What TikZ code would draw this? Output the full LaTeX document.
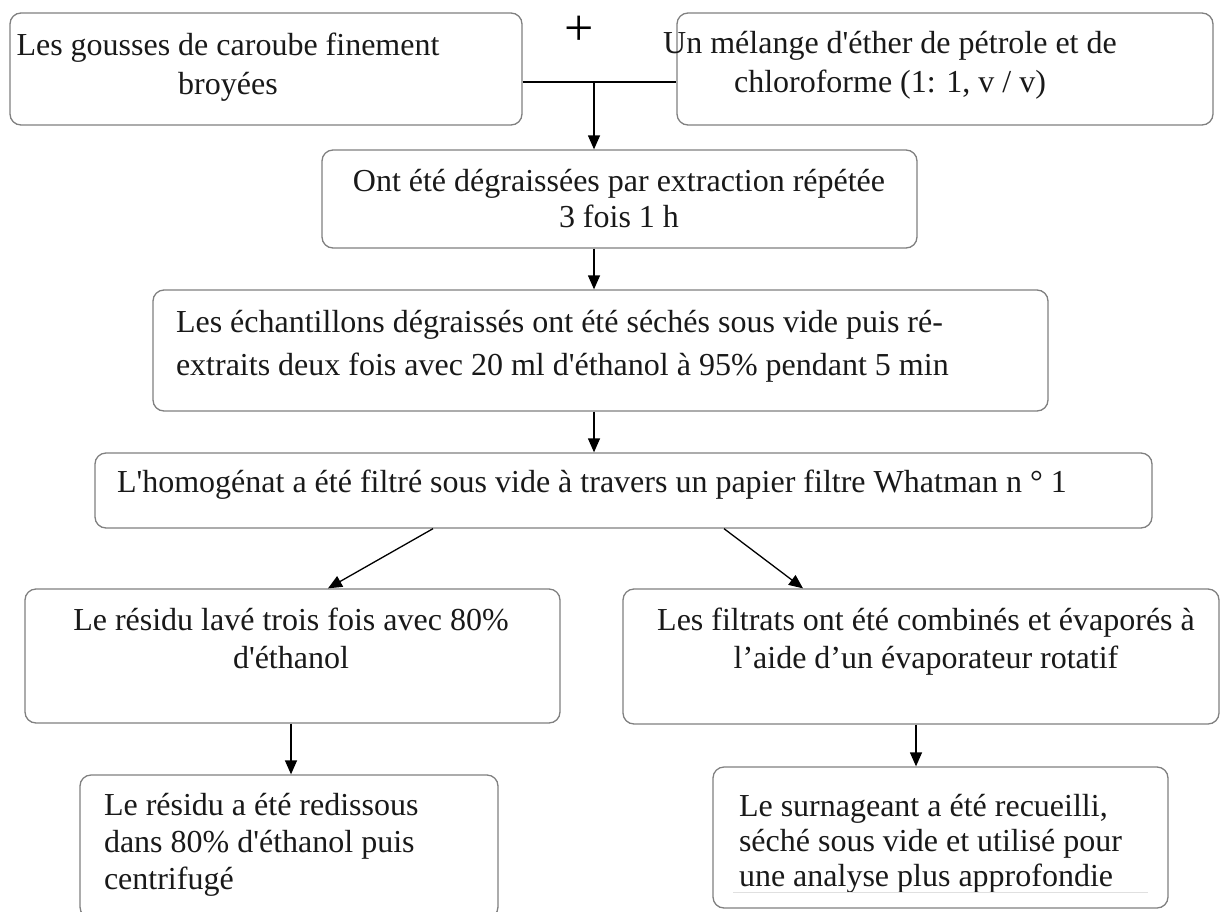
\documentclass[tikz,border=0pt]{standalone}
\usepackage{fontspec}
\newfontfamily\bodyfont{Liberation Serif}
\usetikzlibrary{arrows.meta}

\tikzset{
  box/.style={draw=black!50, line width=1.3pt, rounded corners=11pt,
    inner sep=0pt, fill=white},
  txt/.style={inner sep=0pt, outer sep=0pt, text=black!90,
    font=\bodyfont\fontsize{32}{38}\selectfont},
  arr/.style={-{Triangle[length=14pt,width=12pt]}, line width=1.3pt, black},
  link/.style={line width=1.3pt, black}
}

\begin{document}
\begin{tikzpicture}[x=1pt, y=-1pt]
\useasboundingbox (0,0) rectangle (1221,911);
\clip (0,0) rectangle (1221,911);

% process boxes
\node[box, minimum width=512pt, minimum height=112pt] (a) at (266,69) {};
\node[box, minimum width=536pt, minimum height=112pt] (b) at (945,69) {};
\node[box, minimum width=595pt, minimum height=98pt]  (c) at (619.5,199) {};
\node[box, minimum width=895pt, minimum height=121pt] (d) at (600.5,350.5) {};
\node[box, minimum width=1057pt, minimum height=75pt] (e) at (623.5,490.5) {};
\node[box, minimum width=535pt, minimum height=134pt] (f) at (292.5,656) {};
\node[box, minimum width=596pt, minimum height=135pt] (g) at (921,656.5) {};
\node[box, minimum width=418pt, minimum height=143pt] (h) at (289,846.5) {};
\node[box, minimum width=455pt, minimum height=141pt] (i) at (940.5,837.5) {};

% box texts
\node[txt, anchor=base] (ta) at (228,55)
  {\parbox[t]{500pt}{\centering\baselineskip=39pt Les gousses de caroube finement\\ broyées}};
\node[txt, anchor=base] (tb) at (890,53)
  {\parbox[t]{520pt}{\centering\baselineskip=39pt Un mélange d'éther de pétrole et de\\ chloroforme (1: 1, v / v)}};
\node[txt, anchor=center, text=black] (plus) at (579,31) {\fontsize{52}{52}\selectfont +};
\node[txt, anchor=base] (tc) at (619,191)
  {\parbox[t]{580pt}{\centering\baselineskip=36pt Ont été dégraissées par extraction répétée\\ 3 fois 1 h}};
\node[txt, anchor=base west] (td) at (176,332)
  {\parbox[t]{860pt}{\raggedright\baselineskip=43pt Les échantillons dégraissés ont été séchés sous vide puis ré-\\ extraits deux fois avec 20 ml d'éthanol à 95\% pendant 5 min}};
\node[txt, anchor=base west] (te) at (117,492)
  {L'homogénat a été filtré sous vide à travers un papier filtre Whatman n ° 1};
\node[txt, anchor=base] (tf) at (291,630)
  {\parbox[t]{520pt}{\centering\baselineskip=38pt Le résidu lavé trois fois avec 80\%\\ d'éthanol}};
\node[txt, anchor=base] (tg) at (926,630)
  {\parbox[t]{590pt}{\centering\baselineskip=38pt Les filtrats ont été combinés et évaporés à\\ l’aide d’un évaporateur rotatif}};
\node[txt, anchor=base west] (th) at (104,815)
  {\parbox[t]{390pt}{\raggedright\baselineskip=37pt Le résidu a été redissous\\ dans 80\% d'éthanol puis\\ centrifugé}};
\node[txt, anchor=base west] (ti) at (739,816)
  {\parbox[t]{420pt}{\raggedright\baselineskip=35pt Le surnageant a été recueilli,\\ séché sous vide et utilisé pour\\ une analyse plus approfondie}};
\coordinate (ul1) at (733,892);
\coordinate (ul2) at (1148,892);
\draw[black!12, line width=0.8pt] (ul1) -- (ul2);

% joining the two starting materials
\coordinate (j) at (594,82);
\draw[link] (a.east |- j) -- (b.west |- j);
\draw[arr] (j) -- (j |- c.north);

% main sequence
\draw[arr] (c.south -| j) -- (d.north -| j);
\draw[arr] (d.south -| j) -- (e.north -| j);

% split after filtration
\coordinate (s1) at (433,0);
\coordinate (t1) at (328,0);
\coordinate (s2) at (724,0);
\coordinate (t2) at (803,0);
\draw[arr] (e.south -| s1) -- (f.north -| t1);
\draw[arr] (e.south -| s2) -- (g.north -| t2);

% final steps
\coordinate (l) at (291,0);
\coordinate (r) at (916,0);
\draw[arr] (f.south -| l) -- (h.north -| l);
\draw[arr] (g.south -| r) -- (i.north -| r);
\end{tikzpicture}
\end{document}
